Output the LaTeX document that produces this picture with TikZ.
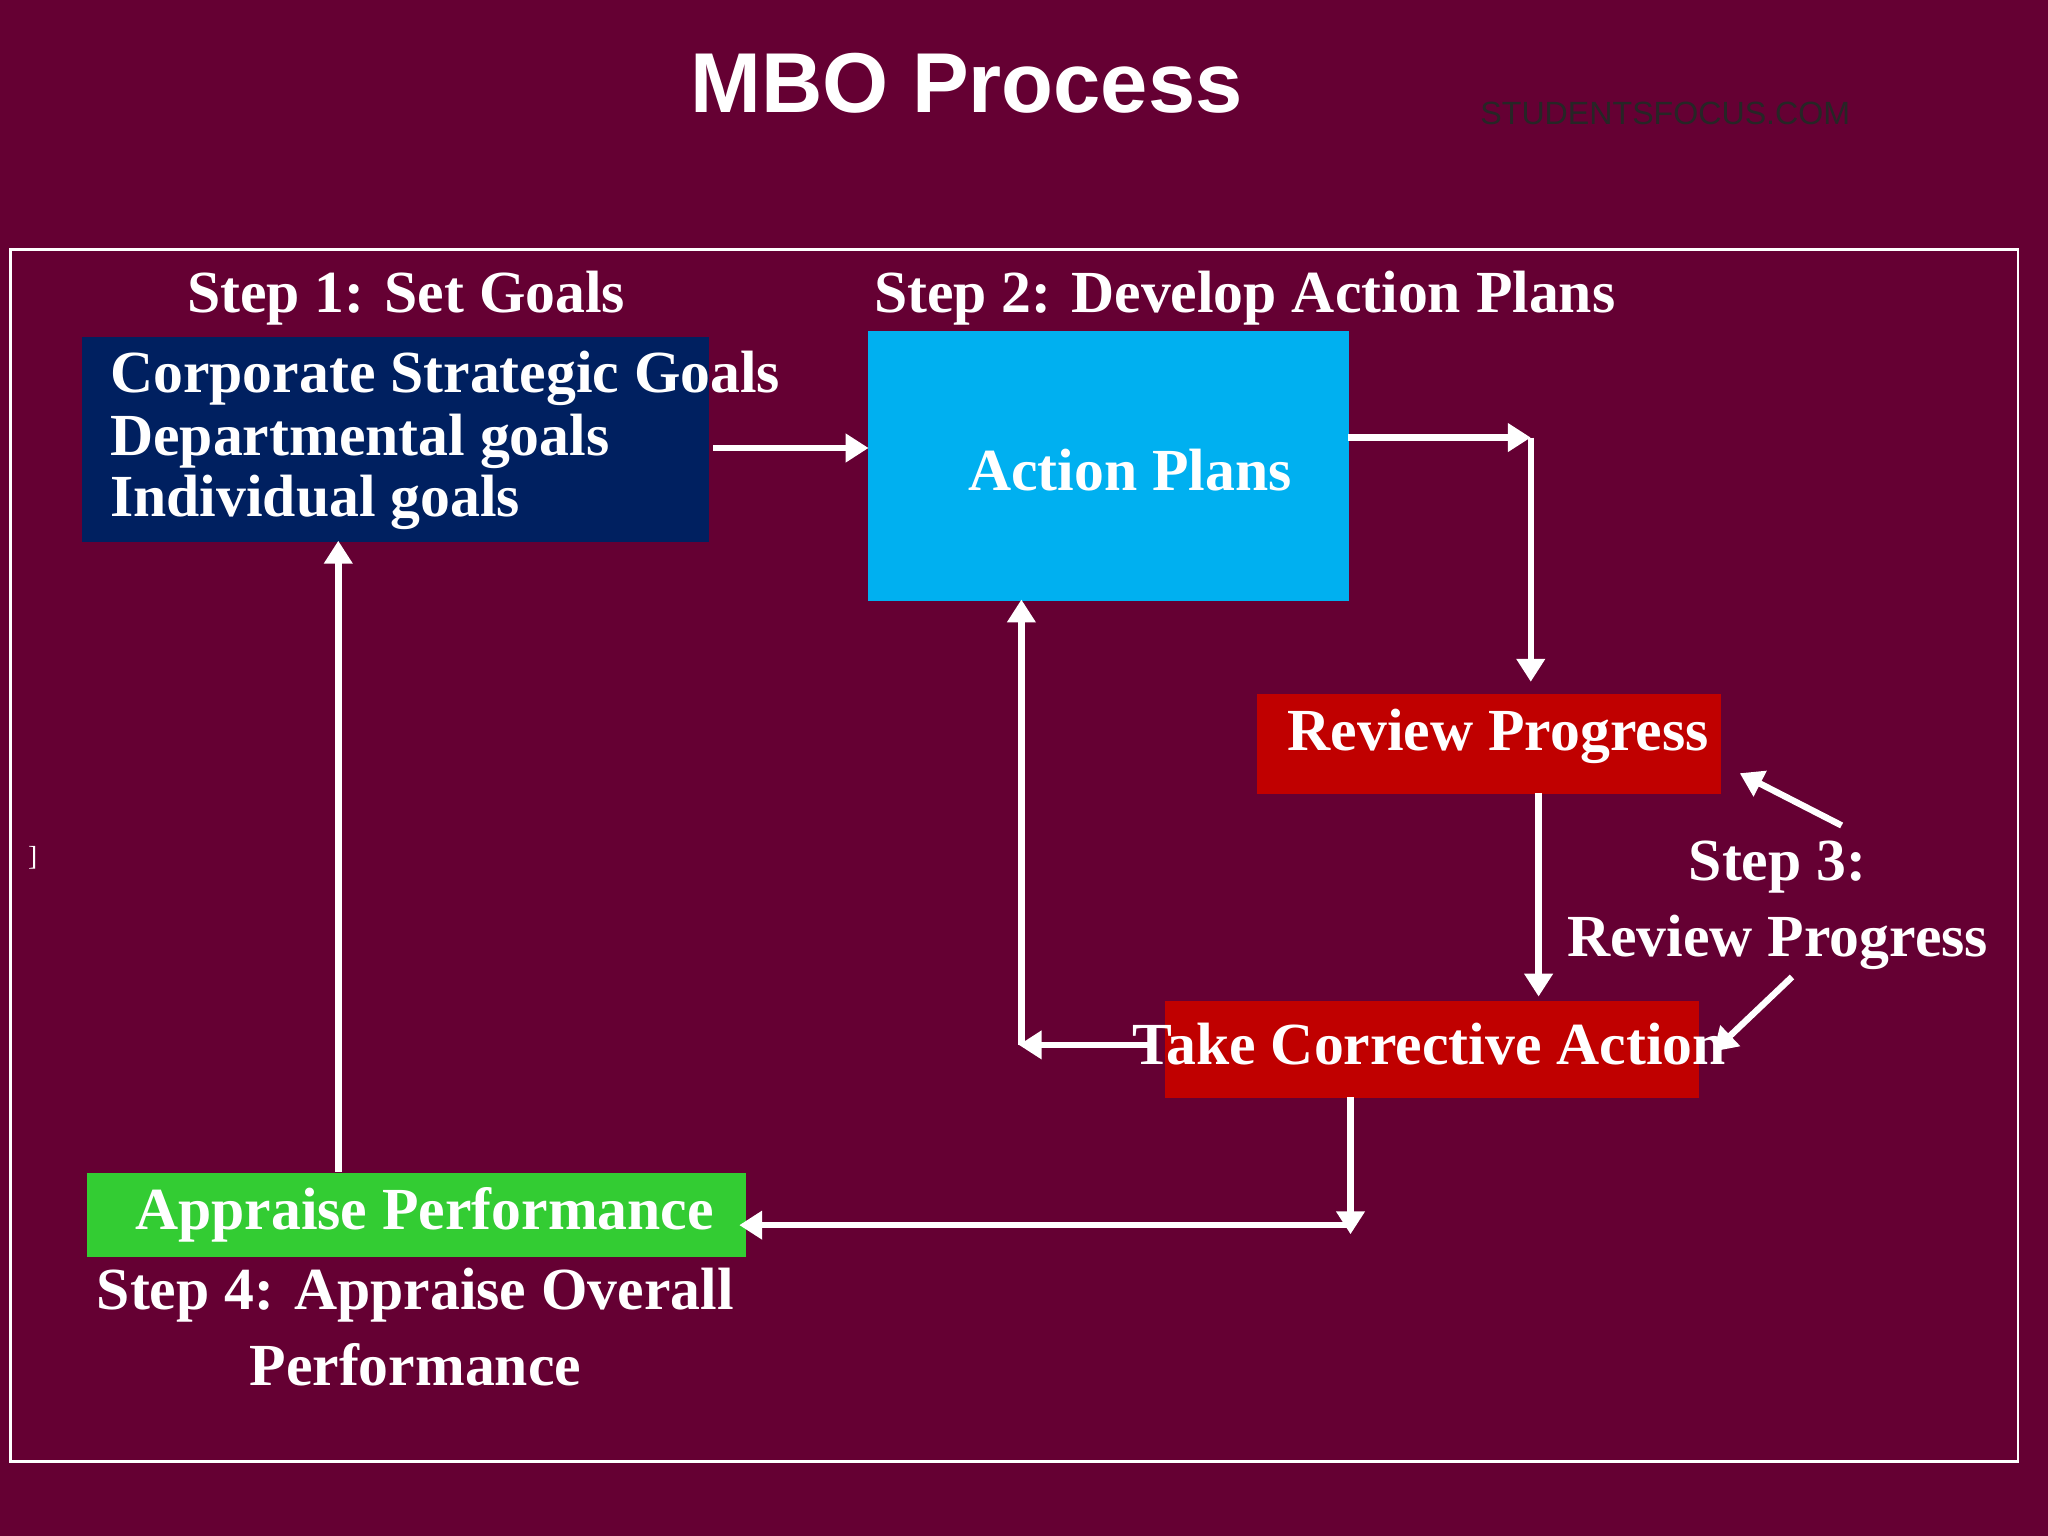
\documentclass[tikz,border=0pt]{standalone}
\usepackage{fontspec}
\setmainfont{Liberation Serif}
\newfontfamily\arialf{Liberation Sans}
\usetikzlibrary{arrows.meta}
\definecolor{bgc}{HTML}{650033}
\definecolor{navy}{HTML}{002060}
\definecolor{skyb}{HTML}{00B0F0}
\definecolor{redb}{HTML}{C00000}
\definecolor{grnb}{HTML}{33CC33}
\begin{document}
\begin{tikzpicture}[x=0.01cm,y=-0.01cm,
  lbl/.style={text=white,font=\fontsize{13}{15}\selectfont\bfseries,align=center},
  box/.style={anchor=north west,inner sep=0pt,text=white,font=\fontsize{13}{15}\selectfont\bfseries},
  arr/.style={draw=white,line width=1.4pt,-{Triangle[length=5pt,width=6pt]}},
  ln/.style={draw=white,line width=1.4pt}]
\fill[bgc] (0,0) rectangle (1568,1176);
\useasboundingbox (0,0) rectangle (1568,1176);
\draw[white,line width=0.5pt] (8,191) rectangle (1545,1119);
\node (title) at (740,64) {\arialf\bfseries\fontsize{18.5}{20}\selectfont\color{white}MBO Process};
\node (wm) at (1275,87) {\arialf\fontsize{7}{8}\selectfont\color{black!85}STUDENTSFOCUS.COM};
\node (br) at (25,657) {\fontsize{6}{7}\selectfont\color{white}]};
% boxes
\node[box,fill=navy,minimum width=4.80cm,minimum height=1.57cm] (b1) at (62,257) {};
\node[anchor=west,text=white,font=\fontsize{13}{15}\selectfont\bfseries] (t1) at (72,290) {Corporate Strategic Goals};
\node[anchor=west,text=white,font=\fontsize{13}{15}\selectfont\bfseries] (t2) at (72,338) {Departmental goals};
\node[anchor=west,text=white,font=\fontsize{13}{15}\selectfont\bfseries] (t3) at (72,385) {Individual goals};
\node[box,fill=skyb,minimum width=3.68cm,minimum height=2.06cm] (ap) at (664,253) {};
\node[lbl] (apt) at (865,360) {Action Plans};
\node[box,fill=redb,minimum width=3.55cm,minimum height=0.76cm] (rp) at (962,531) {};
\node[lbl] (rpt) at (1147,564) {Review Progress};
\node[box,fill=redb,minimum width=4.09cm,minimum height=0.74cm] (tc) at (891,766) {};
\node[lbl] (tct) at (1094,799) {Take Corrective Action};
\node[box,fill=grnb,minimum width=5.04cm,minimum height=0.65cm] (pa) at (66,897) {};
\node[lbl] (pat) at (325,930) {Appraise Performance};
% labels
\node[lbl] (s1) at (311,228) {Step 1: Set Goals};
\node[lbl] (s2) at (953,228) {Step 2: Develop Action Plans};
\node[lbl,font=\fontsize{13}{16.5}\selectfont\bfseries] (s3) at (1361,693) {Step 3:\\Review Progress};
\node[lbl,font=\fontsize{13}{16.5}\selectfont\bfseries] (s4) at (318,1016) {Step 4: Appraise Overall\\Performance};
% helper coordinates
\coordinate (c1) at (546,343); \coordinate (c2) at (665,343);
\coordinate (c3) at (1032,335); \coordinate (c4) at (1172,335); \coordinate (c5) at (1172,522);
\coordinate (c6) at (1178,607); \coordinate (c7) at (1178,763);
\coordinate (c8) at (884,800); \coordinate (c9) at (780,800); \coordinate (c10) at (782,800); \coordinate (c11) at (782,459);
\coordinate (c12) at (1034,840); \coordinate (c13) at (1034,945); \coordinate (c14) at (1034,938); \coordinate (c15) at (566,938);
\coordinate (c16) at (259,897); \coordinate (c17) at (259,414);
\coordinate (c18) at (1410,632); \coordinate (c19) at (1332,592);
\coordinate (c20) at (1372,748); \coordinate (c21) at (1312,805);
\draw[arr] (c1) -- (c2);
\draw[arr] (c3) -- (c4);
\draw[arr] (c4) -- (c5);
\draw[arr] (c6) -- (c7);
\draw[arr] (c8) -- (c9);
\draw[arr] (c10) -- (c11);
\draw[arr] (c12) -- (c13);
\draw[arr] (c14) -- (c15);
\draw[arr] (c16) -- (c17);
\draw[arr] (c18) -- (c19);
\draw[arr] (c20) -- (c21);
\end{tikzpicture}
\end{document}
